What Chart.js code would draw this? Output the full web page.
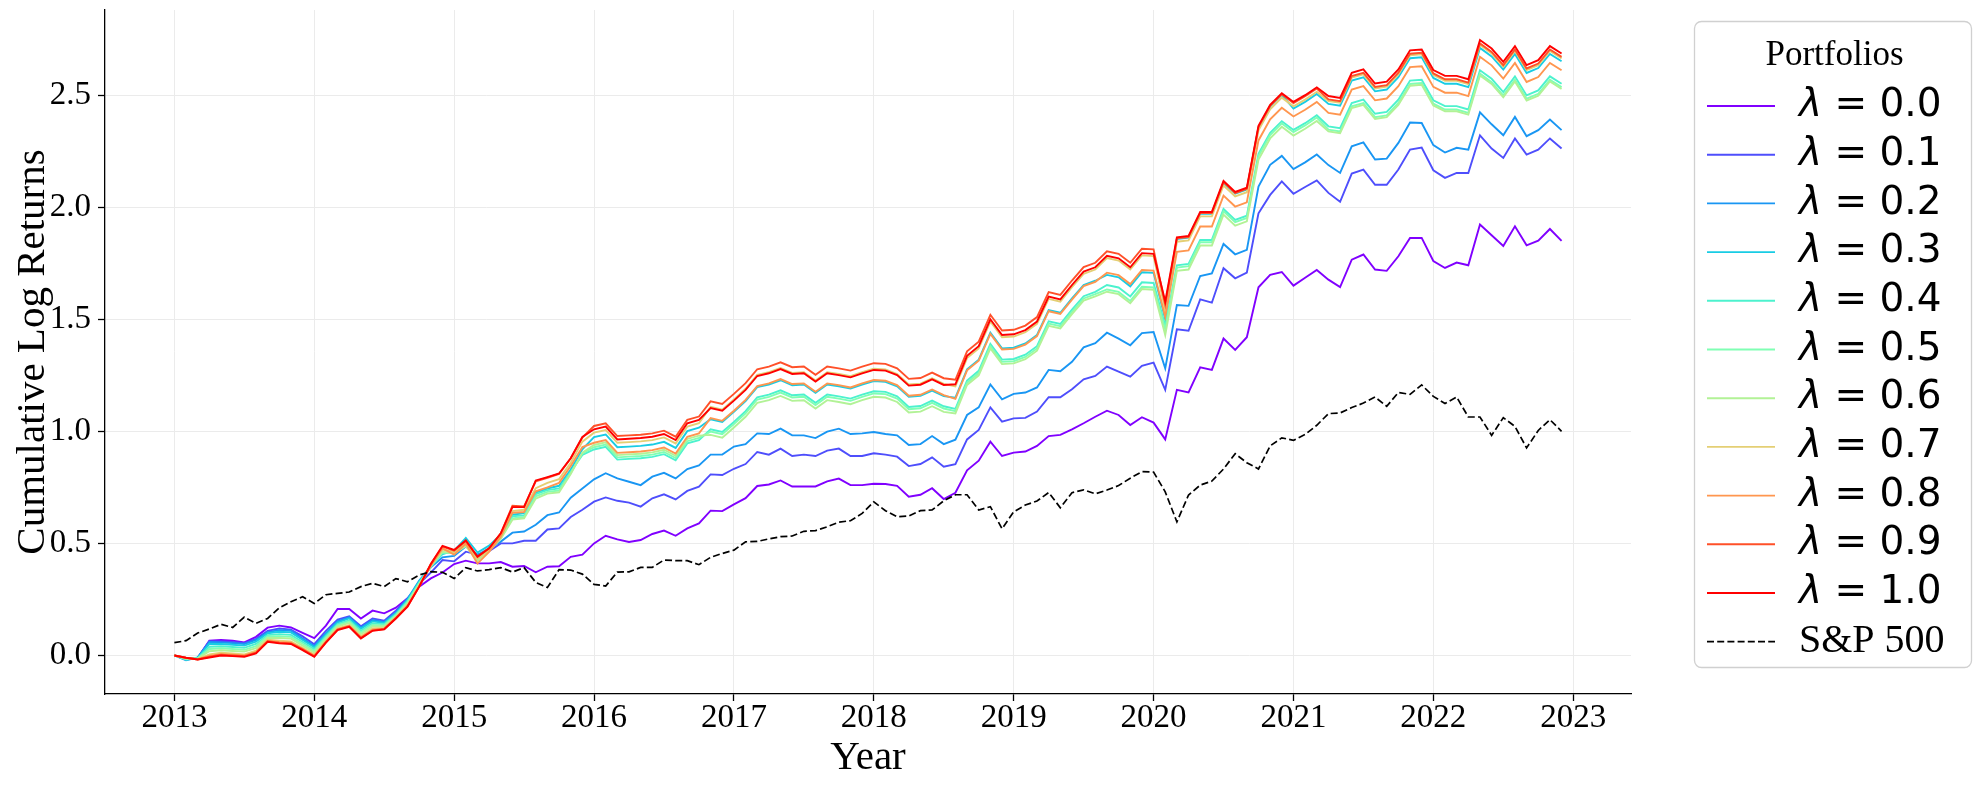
<!DOCTYPE html>
<html>
<head>
<meta charset="utf-8">
<script src="https://cdn.jsdelivr.net/npm/chart.js@4.4.1/dist/chart.umd.min.js"></script>
<style>
  html, body { margin: 0; padding: 0; background: #fff; }
  #wrap { width: 1985px; height: 786px; }
</style>
</head>
<body>
<div id="wrap"><canvas id="chart" width="1985" height="786"></canvas></div>
<script>
"use strict";

// monthly cumulative log returns, Jan 2013 .. Dec 2022
const lam00 = [0.000, -0.012, -0.010, 0.066, 0.069, 0.066, 0.058, 0.083, 0.124, 0.133,
    0.125, 0.101, 0.077, 0.133, 0.207, 0.207, 0.165, 0.200, 0.188, 0.213,
    0.255, 0.307, 0.344, 0.370, 0.408, 0.423, 0.411, 0.411, 0.417, 0.396,
    0.399, 0.371, 0.396, 0.398, 0.440, 0.450, 0.500, 0.534, 0.518, 0.506,
    0.515, 0.542, 0.557, 0.534, 0.567, 0.589, 0.646, 0.644, 0.674, 0.702,
    0.756, 0.763, 0.781, 0.754, 0.754, 0.754, 0.777, 0.789, 0.760, 0.760,
    0.766, 0.765, 0.757, 0.708, 0.717, 0.746, 0.698, 0.726, 0.826, 0.869,
    0.954, 0.890, 0.905, 0.910, 0.935, 0.979, 0.984, 1.009, 1.036, 1.065,
    1.092, 1.073, 1.028, 1.063, 1.039, 0.964, 1.185, 1.174, 1.286, 1.274,
    1.414, 1.363, 1.420, 1.643, 1.698, 1.711, 1.650, 1.685, 1.720, 1.677,
    1.644, 1.766, 1.789, 1.722, 1.716, 1.781, 1.863, 1.863, 1.760, 1.729,
    1.753, 1.741, 1.923, 1.875, 1.827, 1.915, 1.830, 1.851, 1.903, 1.850];

const lam01 = [0.000, -0.015, -0.010, 0.064, 0.063, 0.060, 0.055, 0.074, 0.110, 0.120,
    0.115, 0.085, 0.050, 0.110, 0.160, 0.175, 0.130, 0.165, 0.155, 0.200,
    0.255, 0.320, 0.370, 0.426, 0.420, 0.463, 0.450, 0.465, 0.500, 0.500,
    0.512, 0.512, 0.562, 0.567, 0.618, 0.650, 0.686, 0.705, 0.690, 0.682,
    0.664, 0.701, 0.719, 0.696, 0.734, 0.753, 0.808, 0.805, 0.833, 0.854,
    0.908, 0.896, 0.923, 0.890, 0.896, 0.890, 0.914, 0.923, 0.890, 0.890,
    0.902, 0.896, 0.887, 0.845, 0.854, 0.884, 0.842, 0.854, 0.964, 1.006,
    1.107, 1.043, 1.058, 1.060, 1.088, 1.152, 1.152, 1.188, 1.232, 1.247,
    1.289, 1.266, 1.244, 1.292, 1.307, 1.185, 1.455, 1.449, 1.589, 1.574,
    1.728, 1.683, 1.708, 1.973, 2.055, 2.115, 2.060, 2.090, 2.120, 2.064,
    2.024, 2.150, 2.168, 2.100, 2.100, 2.168, 2.257, 2.266, 2.165, 2.131,
    2.153, 2.153, 2.321, 2.262, 2.220, 2.307, 2.235, 2.257, 2.307, 2.262];

const lam02 = [0.000, -0.021, -0.009, 0.060, 0.058, 0.055, 0.051, 0.069, 0.104, 0.113,
    0.110, 0.075, 0.042, 0.098, 0.152, 0.170, 0.125, 0.158, 0.149, 0.191,
    0.252, 0.334, 0.393, 0.438, 0.444, 0.486, 0.449, 0.478, 0.508, 0.548,
    0.553, 0.583, 0.626, 0.638, 0.704, 0.745, 0.786, 0.813, 0.790, 0.775,
    0.760, 0.798, 0.815, 0.790, 0.832, 0.848, 0.896, 0.896, 0.932, 0.943,
    0.991, 0.988, 1.012, 0.982, 0.982, 0.970, 0.999, 1.012, 0.988, 0.991,
    0.997, 0.988, 0.982, 0.939, 0.943, 0.979, 0.943, 0.963, 1.073, 1.107,
    1.209, 1.143, 1.167, 1.173, 1.196, 1.274, 1.268, 1.310, 1.375, 1.393,
    1.440, 1.414, 1.384, 1.438, 1.443, 1.281, 1.564, 1.560, 1.693, 1.705,
    1.836, 1.790, 1.810, 2.092, 2.189, 2.229, 2.170, 2.200, 2.235, 2.188,
    2.153, 2.272, 2.289, 2.213, 2.217, 2.287, 2.378, 2.376, 2.277, 2.244,
    2.265, 2.257, 2.423, 2.370, 2.321, 2.403, 2.317, 2.344, 2.391, 2.344];

const lam03 = [0.000, -0.019, -0.010, 0.052, 0.051, 0.048, 0.044, 0.062, 0.099, 0.106,
    0.103, 0.069, 0.036, 0.093, 0.147, 0.165, 0.119, 0.152, 0.145, 0.188,
    0.248, 0.330, 0.400, 0.452, 0.468, 0.524, 0.459, 0.490, 0.540, 0.628,
    0.635, 0.727, 0.745, 0.757, 0.830, 0.920, 0.974, 0.986, 0.929, 0.932,
    0.935, 0.941, 0.953, 0.926, 1.001, 1.016, 1.054, 1.042, 1.087, 1.135,
    1.197, 1.209, 1.228, 1.206, 1.209, 1.172, 1.209, 1.201, 1.191, 1.209,
    1.224, 1.221, 1.201, 1.154, 1.158, 1.182, 1.157, 1.150, 1.277, 1.320,
    1.440, 1.370, 1.373, 1.392, 1.430, 1.541, 1.529, 1.593, 1.653, 1.672,
    1.698, 1.687, 1.647, 1.710, 1.707, 1.500, 1.858, 1.864, 1.971, 1.971,
    2.109, 2.060, 2.079, 2.355, 2.449, 2.501, 2.440, 2.470, 2.505, 2.461,
    2.453, 2.565, 2.580, 2.517, 2.525, 2.580, 2.665, 2.669, 2.577, 2.551,
    2.551, 2.536, 2.711, 2.673, 2.614, 2.684, 2.599, 2.621, 2.684, 2.651];

const lam04 = [0.000, -0.018, -0.012, 0.039, 0.041, 0.038, 0.034, 0.051, 0.091, 0.095,
    0.092, 0.060, 0.028, 0.086, 0.140, 0.157, 0.110, 0.144, 0.139, 0.183,
    0.242, 0.325, 0.395, 0.456, 0.460, 0.500, 0.438, 0.478, 0.530, 0.621,
    0.625, 0.720, 0.738, 0.745, 0.820, 0.895, 0.919, 0.931, 0.874, 0.877,
    0.880, 0.886, 0.898, 0.871, 0.946, 0.961, 1.009, 0.997, 1.042, 1.090,
    1.152, 1.164, 1.183, 1.161, 1.164, 1.127, 1.164, 1.156, 1.146, 1.164,
    1.179, 1.176, 1.156, 1.109, 1.113, 1.137, 1.112, 1.100, 1.227, 1.270,
    1.390, 1.320, 1.323, 1.342, 1.380, 1.491, 1.479, 1.543, 1.603, 1.622,
    1.653, 1.642, 1.602, 1.665, 1.662, 1.470, 1.741, 1.747, 1.854, 1.854,
    1.992, 1.943, 1.962, 2.238, 2.332, 2.384, 2.345, 2.375, 2.410, 2.361,
    2.353, 2.465, 2.480, 2.417, 2.425, 2.480, 2.565, 2.569, 2.477, 2.451,
    2.451, 2.436, 2.611, 2.573, 2.514, 2.584, 2.499, 2.521, 2.584, 2.551];

const lam05 = [0.000, -0.016, -0.013, 0.029, 0.032, 0.029, 0.025, 0.042, 0.085, 0.086,
    0.083, 0.052, 0.020, 0.080, 0.134, 0.151, 0.103, 0.136, 0.134, 0.179,
    0.237, 0.320, 0.398, 0.460, 0.458, 0.493, 0.430, 0.472, 0.525, 0.612,
    0.618, 0.710, 0.730, 0.736, 0.814, 0.902, 0.929, 0.941, 0.884, 0.887,
    0.890, 0.896, 0.908, 0.881, 0.956, 0.971, 0.999, 0.987, 1.032, 1.080,
    1.142, 1.154, 1.173, 1.151, 1.154, 1.117, 1.154, 1.146, 1.136, 1.154,
    1.169, 1.166, 1.146, 1.099, 1.103, 1.127, 1.102, 1.090, 1.217, 1.260,
    1.380, 1.310, 1.313, 1.332, 1.370, 1.481, 1.469, 1.533, 1.593, 1.612,
    1.633, 1.622, 1.582, 1.645, 1.642, 1.455, 1.731, 1.737, 1.844, 1.844,
    1.982, 1.933, 1.952, 2.228, 2.322, 2.374, 2.335, 2.365, 2.400, 2.346,
    2.338, 2.450, 2.465, 2.402, 2.410, 2.465, 2.550, 2.554, 2.462, 2.436,
    2.436, 2.421, 2.596, 2.558, 2.499, 2.569, 2.484, 2.506, 2.569, 2.536];

const lam06 = [0.000, -0.014, -0.014, 0.019, 0.023, 0.020, 0.017, 0.033, 0.078, 0.078,
    0.075, 0.044, 0.013, 0.073, 0.129, 0.145, 0.096, 0.129, 0.129, 0.175,
    0.232, 0.318, 0.400, 0.463, 0.455, 0.488, 0.422, 0.467, 0.520, 0.606,
    0.612, 0.700, 0.722, 0.728, 0.810, 0.905, 0.939, 0.951, 0.894, 0.897,
    0.900, 0.906, 0.918, 0.891, 0.966, 0.981, 0.984, 0.972, 1.017, 1.065,
    1.127, 1.139, 1.158, 1.136, 1.139, 1.102, 1.139, 1.131, 1.121, 1.139,
    1.154, 1.151, 1.131, 1.084, 1.088, 1.112, 1.087, 1.080, 1.207, 1.250,
    1.370, 1.300, 1.303, 1.322, 1.360, 1.471, 1.459, 1.523, 1.583, 1.602,
    1.623, 1.612, 1.572, 1.635, 1.632, 1.430, 1.716, 1.722, 1.829, 1.829,
    1.967, 1.918, 1.937, 2.213, 2.307, 2.359, 2.320, 2.350, 2.385, 2.338,
    2.330, 2.442, 2.457, 2.394, 2.402, 2.457, 2.542, 2.546, 2.454, 2.428,
    2.428, 2.413, 2.588, 2.550, 2.491, 2.561, 2.476, 2.498, 2.561, 2.528];

const lam07 = [0.000, -0.012, -0.016, 0.005, 0.012, 0.009, 0.005, 0.021, 0.070, 0.066,
    0.063, 0.034, 0.004, 0.065, 0.121, 0.136, 0.086, 0.120, 0.123, 0.170,
    0.225, 0.312, 0.405, 0.472, 0.462, 0.505, 0.432, 0.470, 0.535, 0.644,
    0.650, 0.746, 0.770, 0.787, 0.860, 0.954, 0.994, 1.006, 0.949, 0.952,
    0.955, 0.961, 0.973, 0.946, 1.021, 1.036, 1.109, 1.097, 1.142, 1.190,
    1.252, 1.264, 1.283, 1.261, 1.264, 1.227, 1.264, 1.256, 1.246, 1.264,
    1.279, 1.276, 1.256, 1.209, 1.213, 1.237, 1.212, 1.200, 1.327, 1.370,
    1.490, 1.420, 1.423, 1.442, 1.480, 1.591, 1.579, 1.643, 1.703, 1.722,
    1.773, 1.762, 1.722, 1.785, 1.782, 1.540, 1.846, 1.852, 1.959, 1.959,
    2.097, 2.048, 2.067, 2.343, 2.437, 2.489, 2.450, 2.480, 2.515, 2.474,
    2.466, 2.578, 2.593, 2.530, 2.538, 2.593, 2.678, 2.682, 2.590, 2.564,
    2.564, 2.549, 2.724, 2.686, 2.627, 2.697, 2.612, 2.634, 2.697, 2.664];

const lam08 = [0.000, -0.011, -0.017, -0.002, 0.006, 0.003, 0.000, 0.015, 0.065, 0.060,
    0.057, 0.029, -0.001, 0.061, 0.117, 0.132, 0.081, 0.115, 0.119, 0.168,
    0.221, 0.308, 0.400, 0.478, 0.450, 0.498, 0.410, 0.462, 0.530, 0.636,
    0.640, 0.732, 0.750, 0.770, 0.845, 0.930, 0.949, 0.961, 0.904, 0.907,
    0.910, 0.916, 0.928, 0.901, 0.976, 0.991, 1.059, 1.047, 1.092, 1.140,
    1.202, 1.214, 1.233, 1.211, 1.214, 1.177, 1.214, 1.206, 1.196, 1.214,
    1.229, 1.226, 1.206, 1.159, 1.163, 1.187, 1.162, 1.145, 1.272, 1.315,
    1.435, 1.365, 1.368, 1.387, 1.425, 1.536, 1.524, 1.588, 1.648, 1.667,
    1.708, 1.697, 1.657, 1.720, 1.717, 1.510, 1.801, 1.807, 1.914, 1.914,
    2.052, 2.003, 2.022, 2.298, 2.392, 2.444, 2.405, 2.435, 2.470, 2.421,
    2.413, 2.525, 2.540, 2.477, 2.485, 2.540, 2.625, 2.629, 2.537, 2.511,
    2.511, 2.496, 2.671, 2.633, 2.574, 2.644, 2.559, 2.581, 2.644, 2.611];

const lam09 = [0.000, -0.010, -0.018, -0.006, 0.003, 0.000, -0.003, 0.012, 0.063, 0.057,
    0.054, 0.027, -0.004, 0.059, 0.115, 0.130, 0.078, 0.112, 0.118, 0.166,
    0.220, 0.307, 0.408, 0.486, 0.468, 0.511, 0.440, 0.478, 0.545, 0.668,
    0.665, 0.777, 0.793, 0.810, 0.880, 0.972, 1.024, 1.036, 0.979, 0.982,
    0.985, 0.991, 1.003, 0.976, 1.051, 1.066, 1.134, 1.122, 1.167, 1.215,
    1.277, 1.289, 1.308, 1.286, 1.289, 1.252, 1.289, 1.281, 1.271, 1.289,
    1.304, 1.301, 1.281, 1.234, 1.238, 1.262, 1.237, 1.230, 1.357, 1.400,
    1.520, 1.450, 1.453, 1.472, 1.510, 1.621, 1.609, 1.673, 1.733, 1.752,
    1.803, 1.792, 1.752, 1.815, 1.812, 1.565, 1.861, 1.867, 1.974, 1.974,
    2.112, 2.063, 2.082, 2.358, 2.452, 2.504, 2.465, 2.495, 2.530, 2.481,
    2.473, 2.585, 2.600, 2.537, 2.545, 2.600, 2.685, 2.689, 2.597, 2.571,
    2.571, 2.556, 2.731, 2.693, 2.634, 2.704, 2.619, 2.641, 2.704, 2.671];

const lam10 = [0.000, -0.010, -0.018, -0.009, 0.000, -0.003, -0.006, 0.009, 0.061, 0.054,
    0.051, 0.024, -0.006, 0.057, 0.113, 0.128, 0.076, 0.110, 0.116, 0.165,
    0.218, 0.307, 0.408, 0.489, 0.471, 0.513, 0.441, 0.478, 0.545, 0.662,
    0.662, 0.781, 0.796, 0.812, 0.880, 0.975, 1.009, 1.021, 0.964, 0.967,
    0.970, 0.976, 0.988, 0.961, 1.036, 1.051, 1.104, 1.092, 1.137, 1.185,
    1.247, 1.259, 1.278, 1.256, 1.259, 1.222, 1.259, 1.251, 1.241, 1.259,
    1.274, 1.271, 1.251, 1.204, 1.208, 1.232, 1.207, 1.210, 1.337, 1.380,
    1.500, 1.430, 1.433, 1.452, 1.490, 1.601, 1.589, 1.653, 1.713, 1.732,
    1.783, 1.772, 1.732, 1.795, 1.792, 1.579, 1.866, 1.872, 1.979, 1.979,
    2.117, 2.068, 2.087, 2.363, 2.457, 2.509, 2.470, 2.500, 2.535, 2.496,
    2.488, 2.600, 2.615, 2.552, 2.560, 2.615, 2.700, 2.704, 2.612, 2.586,
    2.586, 2.571, 2.746, 2.708, 2.649, 2.719, 2.634, 2.656, 2.719, 2.686];

const sp500 = [0.057, 0.066, 0.100, 0.118, 0.139, 0.125, 0.171, 0.143, 0.165, 0.213,
    0.240, 0.262, 0.232, 0.271, 0.277, 0.283, 0.307, 0.322, 0.307, 0.343,
    0.329, 0.359, 0.374, 0.371, 0.343, 0.392, 0.377, 0.383, 0.392, 0.372,
    0.392, 0.326, 0.303, 0.383, 0.381, 0.363, 0.317, 0.310, 0.372, 0.373,
    0.393, 0.393, 0.426, 0.423, 0.423, 0.405, 0.438, 0.455, 0.470, 0.507,
    0.509, 0.520, 0.530, 0.533, 0.554, 0.557, 0.574, 0.595, 0.601, 0.634,
    0.685, 0.646, 0.619, 0.622, 0.646, 0.649, 0.690, 0.717, 0.717, 0.649,
    0.664, 0.565, 0.641, 0.671, 0.689, 0.727, 0.659, 0.726, 0.739, 0.721,
    0.738, 0.758, 0.791, 0.820, 0.818, 0.730, 0.596, 0.716, 0.760, 0.778,
    0.832, 0.900, 0.860, 0.832, 0.935, 0.971, 0.960, 0.986, 1.027, 1.079,
    1.082, 1.106, 1.126, 1.153, 1.112, 1.173, 1.165, 1.207, 1.156, 1.124,
    1.153, 1.064, 1.064, 0.982, 1.061, 1.022, 0.926, 1.004, 1.052, 1.000];

const lambdaNames = ['0.0', '0.1', '0.2', '0.3', '0.4', '0.5', '0.6', '0.7', '0.8', '0.9', '1.0'];
const lambdaSeries = [lam00, lam01, lam02, lam03, lam04, lam05, lam06, lam07, lam08, lam09, lam10];
const yearTicks = [2013, 2014, 2015, 2016, 2017, 2018, 2019, 2020, 2021, 2022, 2023];
const valueTicks = [0.0, 0.5, 1.0, 1.5, 2.0, 2.5];

// matplotlib "rainbow" colormap at lambda
const lambdaColors = ['#8000ff', '#4e4efc', '#1996f3', '#18cce4', '#4cf2ce', '#80ffb4',
    '#b2f296', '#e4cf74', '#ff964f', '#ff5029', '#ff0000'];

const SERIF = '"Liberation Serif", "Times New Roman", serif';
const SANS = '"DejaVu Sans", sans-serif';

// month dates as decimal years
const monthX = sp500.map((_, i) => 2013 + i / 12);

function toPoints(vals) {
    return vals.map((v, i) => ({ x: monthX[i], y: v }));
}

let datasets = lambdaSeries.map((vals, i) => ({
    label: 'λ = ' + lambdaNames[i],
    data: toPoints(vals),
    borderColor: lambdaColors[i],
    borderWidth: 1.9,
    pointRadius: 0,
    tension: 0,
    fill: false,
    order: 20 - i
}));
datasets.push({
    label: 'S&P 500',
    data: toPoints(sp500),
    borderColor: '#000000',
    borderWidth: 1.7,
    borderDash: [7, 3.2],
    pointRadius: 0,
    tension: 0,
    fill: false,
    order: 1
});

/********************************************************/
// legend box on the right, drawn like the matplotlib one
const boxLegend = {
    id: 'boxLegend',
    afterDraw(chart) {
        const ctx = chart.ctx;
        const left = 1694, top = 21, width = 277, height = 646;
        const lineX0 = 1707, lineX1 = 1775, textX = 1799;
        const firstRow = 106, rowStep = 48.7;

        ctx.save();
        ctx.beginPath();
        ctx.roundRect(left + 0.5, top + 0.5, width, height, 7);
        ctx.fillStyle = 'rgba(255,255,255,0.85)';
        ctx.fill();
        ctx.strokeStyle = '#d0d0d0';
        ctx.lineWidth = 1.3;
        ctx.stroke();

        ctx.fillStyle = '#000';
        ctx.textBaseline = 'middle';
        ctx.textAlign = 'center';
        ctx.font = '35px ' + SERIF;
        ctx.fillText('Portfolios', left + width / 2 + 2, 56);

        ctx.textAlign = 'left';
        chart.data.datasets.forEach((ds, i) => {
            const y = firstRow + i * rowStep;
            ctx.beginPath();
            ctx.setLineDash(ds.borderDash || []);
            ctx.strokeStyle = ds.borderColor;
            ctx.lineWidth = ds.borderWidth;
            ctx.moveTo(lineX0, y);
            ctx.lineTo(lineX1, y);
            ctx.stroke();
            ctx.setLineDash([]);

            if (ds.label.charAt(0) === 'λ') {
                ctx.font = 'italic 39px ' + SANS;
                ctx.fillText('λ', textX, y);
                const w = ctx.measureText('λ').width;
                ctx.font = '39px ' + SANS;
                ctx.fillText(ds.label.slice(1), textX + w, y);
            } else {
                ctx.font = '40px ' + SERIF;
                ctx.fillText(ds.label, textX, y);
            }
        });
        ctx.restore();
    }
};

const gridColor = '#ebebeb';

new Chart(document.getElementById('chart'), {
    type: 'line',
    data: { datasets: datasets },
    options: {
        responsive: false,
        animation: false,
        devicePixelRatio: 1,
        events: [],
        layout: { padding: { left: 0, right: 354, top: 10, bottom: 0 } },
        plugins: {
            legend: { display: false },
            tooltip: { enabled: false },
            title: { display: false }
        },
        scales: {
            x: {
                type: 'linear',
                min: 2012.504,
                max: 2023.413,
                afterBuildTicks: (s) => { s.ticks = yearTicks.map(v => ({ value: v })); },
                afterFit: (s) => { s.height = 92; s.paddingLeft = 0; s.paddingRight = 0; },
                ticks: {
                    callback: (v) => String(v),
                    autoSkip: false,
                    maxRotation: 0,
                    color: '#000',
                    padding: -2,
                    font: { family: SERIF, size: 33 }
                },
                grid: { color: gridColor, lineWidth: 1, tickColor: '#000', tickLength: 7, tickWidth: 1.3 },
                border: { display: true, color: '#000', width: 1.3 },
                title: {
                    display: true,
                    text: 'Year',
                    color: '#000',
                    font: { family: SERIF, size: 41 },
                    padding: { top: 0, bottom: 3 }
                }
            },
            y: {
                type: 'linear',
                min: -0.172,
                max: 2.88,
                afterBuildTicks: (s) => { s.ticks = valueTicks.map(v => ({ value: v })); },
                afterFit: (s) => { s.width = 105; s.paddingTop = 0; s.paddingBottom = 0; },
                ticks: {
                    callback: (v) => v.toFixed(1),
                    color: '#000',
                    padding: 7,
                    font: { family: SERIF, size: 33 }
                },
                grid: { color: gridColor, lineWidth: 1, tickColor: '#000', tickLength: 7, tickWidth: 1.3 },
                border: { display: true, color: '#000', width: 1.3 },
                title: {
                    display: true,
                    text: 'Cumulative Log Returns',
                    color: '#000',
                    font: { family: SERIF, size: 41 },
                    padding: { top: 9, bottom: 0 }
                }
            }
        }
    },
    plugins: [boxLegend]
});
</script>
</body>
</html>
